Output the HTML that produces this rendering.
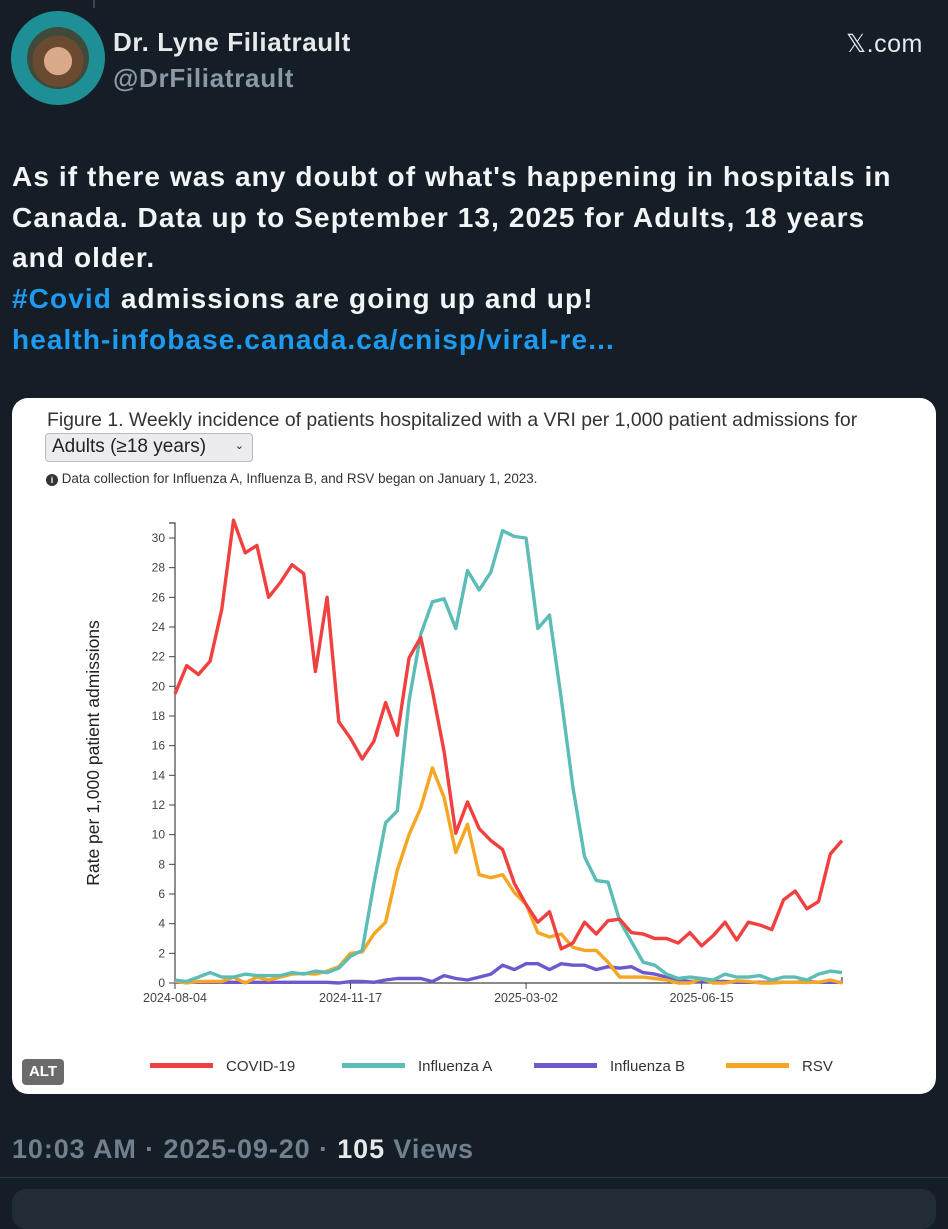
<!DOCTYPE html>
<html><head><meta charset="utf-8">
<style>
body{margin:0;width:948px;height:1200px;background:#151d26;overflow:hidden;font-family:"Liberation Sans",sans-serif;position:relative}
.abs{position:absolute}
</style></head>
<body>
<div class="abs" style="left:93px;top:0;width:2px;height:8px;background:#3a4652"></div>
<div class="abs" style="left:11px;top:11px;width:94px;height:94px;border-radius:50%;background:#1f8f96;overflow:hidden">
  <div style="position:absolute;left:16px;top:16px;width:62px;height:62px;border-radius:50%;background:radial-gradient(circle at 50% 55%,#d9a98a 0 30%,#6b4a32 31% 55%,#3f4a3a 56%)"></div>
</div>
<div class="abs" style="left:113px;top:27px;color:#e7e9ea;font-weight:bold;font-size:26px;letter-spacing:0.6px">Dr. Lyne Filiatrault</div>
<div class="abs" style="left:113px;top:63px;color:#8b98a5;font-weight:bold;font-size:26px;letter-spacing:0.7px">@DrFiliatrault</div>
<div class="abs" style="left:846px;top:29px;color:#e7e9ea;font-size:25px;letter-spacing:0.5px">𝕏.com</div>
<div class="abs" style="left:12px;top:157px;width:936px;white-space:nowrap;color:#f2f4f5;font-weight:bold;font-size:28px;letter-spacing:1.1px;line-height:40.7px">As if there was any doubt of what's happening in hospitals in<br>Canada. Data up to September 13, 2025 for Adults, 18 years<br>and older.<br><span style="color:#1d9bf0">#Covid</span> admissions are going up and up!<br><span style="color:#1d9bf0">health-infobase.canada.ca/cnisp/viral-re...</span></div>

<div class="abs" style="left:12px;top:398px;width:924px;height:696px;background:#fff;border-radius:16px"></div>
<div class="abs" style="left:47px;top:409px;color:#333;font-size:19.4px;white-space:nowrap">Figure 1. Weekly incidence of patients hospitalized with a VRI per 1,000 patient admissions for</div>
<div class="abs" style="left:45px;top:433px;width:208px;height:29px;background:#ececef;border:1px solid #b9b9c0;border-radius:4px;box-sizing:border-box;font-size:19px;color:#222;padding:2px 0 0 6px">Adults (≥18 years)<span style="position:absolute;right:8px;top:5px;font-size:11px">⌄</span></div>
<div class="abs" style="left:46px;top:471px;font-size:13.4px;color:#333;white-space:nowrap"><span style="display:inline-block;width:12px;height:12px;border-radius:50%;background:#333;color:#fff;font-size:9px;text-align:center;line-height:12px;font-weight:bold">i</span> Data collection for Influenza A, Influenza B, and RSV began on January 1, 2023.</div>

<svg class="abs" style="left:0;top:0" width="948" height="1200" id="chart"></svg>

<div class="abs" style="left:22px;top:1059px;width:42px;height:26px;background:#6b6b6b;border-radius:4px;color:#fff;font-weight:bold;font-size:15px;text-align:center;line-height:26px">ALT</div>

<div class="abs" style="left:12px;top:1134px;font-size:27px;letter-spacing:0.9px;font-weight:bold;color:#71808e;white-space:nowrap">10:03 AM · 2025-09-20 · <span style="color:#e7e9ea">105</span> Views</div>
<div class="abs" style="left:0;top:1177px;width:948px;height:1px;background:#2f3a45"></div>
<div class="abs" style="left:12px;top:1189px;width:924px;height:40px;background:#222c37;border-radius:14px"></div>

<script>
const weeks = ["2024-08-04","2024-11-17","2025-03-02","2025-06-15"];
const tickWeekIdx = [0,15,30,45];
const yTicks = [0,2,4,6,8,10,12,14,16,18,20,22,24,26,28,30];
const covid = [19.5,21.4,20.8,21.7,25.2,31.2,29.0,29.5,26.0,27.0,28.2,27.6,21.0,26.0,17.6,16.5,15.1,16.3,18.9,16.7,21.9,23.3,19.7,15.6,10.1,12.2,10.4,9.6,9.0,6.7,5.3,4.1,4.8,2.3,2.7,4.1,3.3,4.2,4.3,3.4,3.3,3.0,3.0,2.7,3.4,2.5,3.2,4.1,2.9,4.1,3.9,3.6,5.6,6.2,5.0,5.5,8.7,9.6];
const fluA = [0.2,0.1,0.4,0.7,0.4,0.4,0.6,0.5,0.5,0.5,0.7,0.6,0.8,0.7,1.0,1.8,2.2,6.7,10.8,11.6,19.0,23.5,25.7,25.9,23.9,27.8,26.5,27.7,30.5,30.1,30.0,23.9,24.8,19.2,13.2,8.5,6.9,6.8,4.2,2.8,1.4,1.2,0.6,0.3,0.4,0.3,0.2,0.6,0.4,0.4,0.5,0.2,0.4,0.4,0.2,0.6,0.8,0.7];
const fluB = [0.05,0.05,0.05,0.05,0.05,0.05,0.05,0.05,0.05,0.05,0.05,0.05,0.05,0.05,0.0,0.1,0.1,0.05,0.2,0.3,0.3,0.3,0.1,0.5,0.3,0.2,0.4,0.6,1.2,0.9,1.3,1.3,0.9,1.3,1.2,1.2,0.9,1.1,1.0,1.1,0.7,0.6,0.4,0.2,0.1,0.1,0.1,0.1,0.05,0.05,0.05,0.05,0.05,0.05,0.1,0.05,0.05,0.05];
const rsv = [0.1,0.0,0.1,0.1,0.1,0.4,0.0,0.4,0.2,0.4,0.6,0.65,0.6,0.8,1.1,2.0,2.1,3.3,4.1,7.6,10.0,11.8,14.5,12.5,8.8,10.7,7.3,7.1,7.3,6.1,5.3,3.4,3.1,3.3,2.4,2.2,2.2,1.4,0.4,0.4,0.4,0.3,0.2,0.0,0.0,0.3,0.0,0.0,0.15,0.1,0.0,0.0,0.05,0.05,0.05,0.05,0.2,0.0];
const seriesNames = ["COVID-19","Influenza A","Influenza B","RSV"];
const seriesColors = ["#f04040","#5bbdb5","#6a5acd","#f5a623"];

const NS="http://www.w3.org/2000/svg";
const svg=document.getElementById('chart');
const X0=175,X1=842,Y0=983,Y30=538;
const nW=covid.length-1;
function xs(i){return X0+(X1-X0)*i/nW;}
function ys(v){return Y0+(Y30-Y0)*v/30;}
function mk(tag,attrs){const e=document.createElementNS(NS,tag);for(const k in attrs)e.setAttribute(k,attrs[k]);svg.appendChild(e);return e;}

let ax=mk('path',{d:`M${X0-6},523H${X0}V${Y0}`,stroke:'#444',fill:'none','stroke-width':1.2});


yTicks.forEach(t=>{
  const y=ys(t);
  let l=mk('line',{x1:X0-6,x2:X0,y1:y,y2:y,stroke:'#444'});
  
  
  let tx=mk('text',{x:X0-10,y:y+4,'text-anchor':'end','font-size':12,fill:'#444','font-family':'Liberation Sans, sans-serif'});
  tx.textContent=t;
  
  
});
let xa=mk('path',{d:`M${X0},${Y0}H${X1}V${Y0-6}`,stroke:'#444',fill:'none','stroke-width':1.2});


weeks.forEach((w,k)=>{
  const x=xs(tickWeekIdx[k]);
  let l=mk('line',{x1:x,x2:x,y1:Y0,y2:Y0+6,stroke:'#444'});
  
  
  let tx=mk('text',{x:x,y:Y0+19,'text-anchor':'middle','font-size':12.5,fill:'#444','font-family':'Liberation Sans, sans-serif'});
  tx.textContent=w;
  
  
});
let yt=mk('text',{x:0,y:0,transform:'translate(99,753) rotate(-90)','text-anchor':'middle','font-size':17.5,fill:'#222','font-family':'Liberation Sans, sans-serif'});
yt.textContent='Rate per 1,000 patient admissions';



const allSeries=[covid,fluA,fluB,rsv];
const slugs=['covid-19','influenza-a','influenza-b','rsv'];
[2,3,1,0].forEach(s=>{
  const d=allSeries[s].map((v,i)=>(i?'L':'M')+xs(i).toFixed(1)+','+ys(v).toFixed(1)).join('');
  let p=mk('path',{d:d,stroke:seriesColors[s],fill:'none','stroke-width':3.4,'stroke-linejoin':'round'});
  
  
});
const legX=[150,342,534,726];
seriesNames.forEach((n,s)=>{
  let l=mk('rect',{x:legX[s],y:1063,width:63,height:5,fill:seriesColors[s]});
  
  
  let tx=mk('text',{x:legX[s]+76,y:1071,'font-size':15,fill:'#333','font-family':'Liberation Sans, sans-serif'});
  tx.textContent=n;
  
  
});
</script>
</body></html>
